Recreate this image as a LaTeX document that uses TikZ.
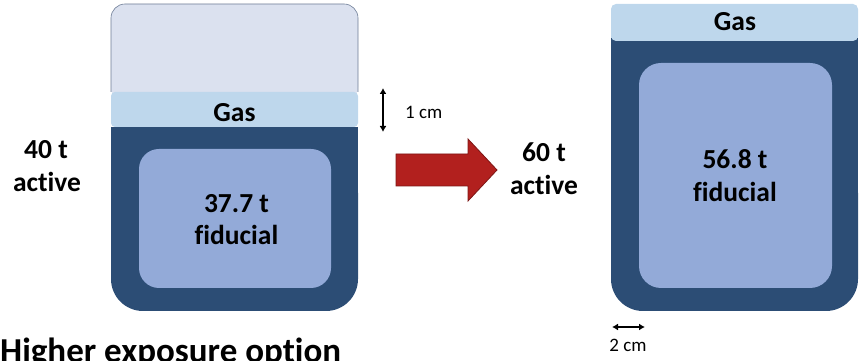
\documentclass[tikz,border=0pt]{standalone}
\usepackage{fontspec}
\setmainfont{Carlito}[Ligatures=NoCommon]
\usepackage{xcolor}
\usepackage{tikz}
\usetikzlibrary{arrows.meta}

\definecolor{tankdark}{RGB}{44,77,117}
\definecolor{fidblue}{RGB}{147,170,216}
\definecolor{gasblue}{RGB}{190,215,236}
\definecolor{emptyblue}{RGB}{219,225,239}
\definecolor{rimgray}{RGB}{110,125,150}
\definecolor{arrowred}{RGB}{178,32,30}

\begin{document}
\begin{tikzpicture}[x=1pt, y=1pt,
  big/.style={font=\fontsize{27.5}{32}\selectfont\bfseries, anchor=base, inner sep=0pt},
  small/.style={font=\fontsize{19}{22}\selectfont, anchor=base, inner sep=0pt},
  dim/.style={{Latex[length=6pt,width=7pt]}-{Latex[length=6pt,width=7pt]}, line width=1.8pt}]
\useasboundingbox (0,0) rectangle (860,361);

% left tank (40 t)
\fill[tankdark] (111,234) rectangle (358,160);
\fill[tankdark, rounded corners=32pt] (111,200) rectangle (358,50);
\fill[emptyblue, rounded corners=14pt] (111,357) rectangle (358,260);
\fill[emptyblue] (111,300) rectangle (358,269);
\fill[gasblue, rounded corners=4pt] (111,269) rectangle (358,234);
\draw[rimgray, line width=0.6pt] (111,269) -- (111,343) arc (180:90:14) -- (344,357) arc (90:0:14) -- (358,269);
\fill[fidblue, rounded corners=20pt] (139,212) rectangle (331,73);
\node[big] (gasL) at (234.5,239) {Gas};
\node[big] (massL) at (236.5,148) {37.7 t};
\node[big] (fidL) at (236.5,116) {fiducial};
\node[big] (actMassL) at (46,202) {40 t};
\node[big] (actL) at (47,169) {active};

% 1 cm marker
\coordinate (cmtop) at (383,273);
\coordinate (cmbot) at (383,229);
\draw[dim] (cmtop) -- (cmbot);
\node[small, anchor=base west] (oneCm) at (405,242) {1 cm};

% red arrow
\filldraw[fill=arrowred, draw=arrowred!70!black, line width=0.8pt]
  (396,207) -- (468,207) -- (468,222) -- (497,191) -- (468,160) -- (468,175) -- (396,175) -- cycle;
\node[big] (actMassR) at (544,199) {60 t};
\node[big] (actR) at (544,166) {active};

% right tank (60 t)
\fill[tankdark] (611,323) rectangle (858,160);
\fill[tankdark, rounded corners=32pt] (611,200) rectangle (858,50);
\fill[gasblue, rounded corners=5pt] (611,357) rectangle (858,320);
\fill[gasblue] (611,330) rectangle (858,323);
\fill[fidblue, rounded corners=22pt] (639,298) rectangle (832,73);
\node[big] (gasR) at (735,330) {Gas};
\node[big] (massR) at (735,192) {56.8 t};
\node[big] (fidR) at (735,159) {fiducial};

% 2 cm marker
\coordinate (cmleft) at (612,34);
\coordinate (cmright) at (645,34);
\draw[dim] (cmleft) -- (cmright);
\node[small] (twoCm) at (628,9) {2 cm};

\node[anchor=base west, font=\fontsize{35}{40}\selectfont\bfseries, inner sep=0pt] (title) at (0,-1.5) {Higher exposure option};
\end{tikzpicture}
\end{document}
